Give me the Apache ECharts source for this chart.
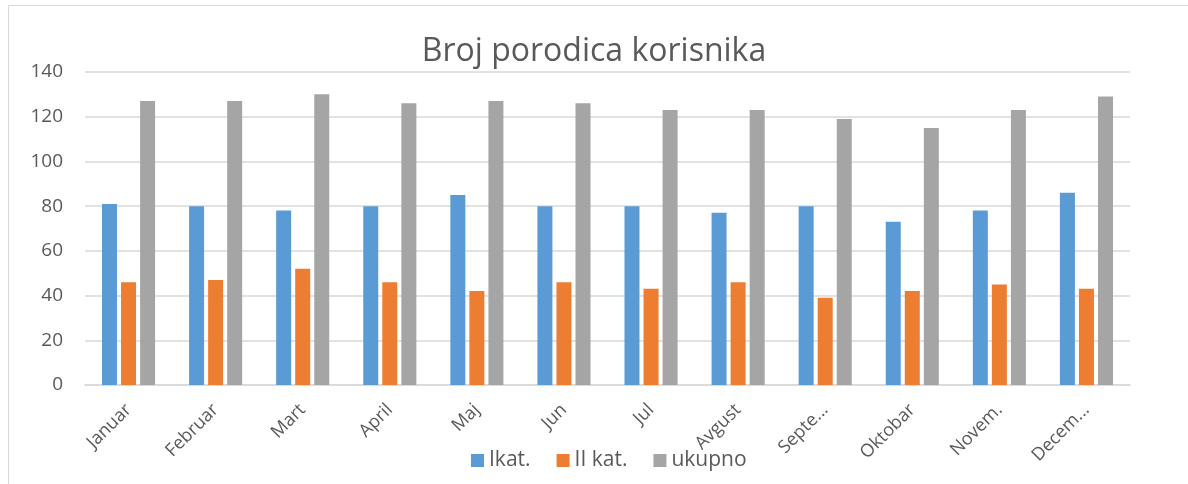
<!DOCTYPE html>
<html lang="sr">
<head>
  <meta charset="utf-8">
</head>
<body style="margin: 0; background: #fff">
  <div style="position: absolute; left: 8px; top: 5px; width: 1200px; height: 500px; border: 1px solid #d9d9d9"></div>
  <div id="container" style="position: absolute; left: 0; top: 0; width: 1188px; height: 484px"></div>
  <script type="text/javascript" src="https://fastly.jsdelivr.net/npm/echarts@6/dist/echarts.min.js"></script>
  <script type="text/javascript">
    var months = ['Januar', 'Februar', 'Mart', 'April', 'Maj', 'Jun', 'Jul', 'Avgust', 'Septe...', 'Oktobar', 'Novem.', 'Decem...'];
    var ikat = [81, 80, 78, 80, 85, 80, 80, 77, 80, 73, 78, 86];
    var iikat = [46, 47, 52, 46, 42, 46, 43, 46, 39, 42, 45, 43];
    var ukupno = [127, 127, 130, 126, 127, 126, 123, 123, 119, 115, 123, 129];

    var font = 'Open Sans';
    var textColor = '#595959';
    var myChart = echarts.init(document.getElementById('container'));

    var option = {
      animation: false,
      color: ['#5b9bd5', '#ed7d31', '#a5a5a5'],
      title: {
        text: 'Broj porodica korisnika',
        left: 'center',
        top: 31,
        textStyle: { fontFamily: font, fontSize: 32, fontWeight: 'normal', color: textColor }
      },
      legend: {
        bottom: 8,
        left: 466,
        itemWidth: 13,
        itemHeight: 13,
        itemGap: 26,
        icon: 'rect',
        textStyle: { fontFamily: font, fontSize: 21, color: textColor }
      },
      grid: { left: 85, right: 58, top: 72, bottom: 99 },
      xAxis: {
        type: 'category',
        data: months,
        axisLine: { lineStyle: { color: '#d9d9d9', width: 1.5 } },
        axisTick: { show: false },
        axisLabel: { rotate: 45, interval: 0, margin: 22, fontFamily: font, fontSize: 18, color: textColor }
      },
      yAxis: {
        type: 'value',
        min: 0,
        max: 140,
        interval: 20,
        axisLine: { show: false },
        axisLabel: { margin: 22, fontFamily: font, fontSize: 19, color: textColor },
        splitLine: { lineStyle: { color: '#d9d9d9', width: 1.5 } }
      },
      series: [
        { name: 'Ikat.', type: 'bar', data: ikat, barWidth: 15, barGap: '27%' },
        { name: 'II kat.', type: 'bar', data: iikat, barWidth: 15, barGap: '27%' },
        { name: 'ukupno', type: 'bar', data: ukupno, barWidth: 15, barGap: '27%' }
      ]
    };
    myChart.setOption(option);
  </script>
</body>
</html>
